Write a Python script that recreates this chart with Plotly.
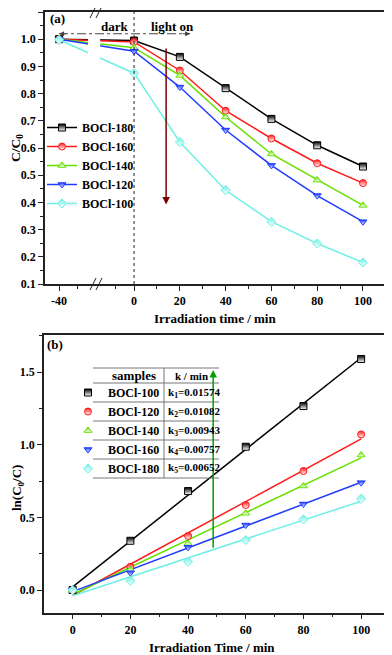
import numpy as np
import plotly.graph_objects as go

# ---- panel (a): C/C0 vs irradiation time ----
times_a = [-40, 0, 20, 40, 60, 80, 100]
names_a = ['BOCl-180', 'BOCl-160', 'BOCl-140', 'BOCl-120', 'BOCl-100']
boc180_a = [1.000, 0.995, 0.935, 0.820, 0.707, 0.610, 0.532]
boc160_a = [1.000, 0.990, 0.885, 0.737, 0.635, 0.544, 0.471]
boc140_a = [1.000, 0.969, 0.867, 0.714, 0.578, 0.482, 0.389]
boc120_a = [1.000, 0.956, 0.824, 0.666, 0.536, 0.425, 0.329]
boc100_a = [0.998, 0.875, 0.622, 0.445, 0.329, 0.249, 0.179]

# ---- panel (b): ln(C0/C) vs irradiation time ----
times_b = [0, 20, 40, 60, 80, 100]
names_b = ['BOCl-100', 'BOCl-120', 'BOCl-140', 'BOCl-160', 'BOCl-180']
boc100_b = [0.000, 0.339, 0.681, 0.986, 1.266, 1.590]
boc120_b = [0.000, 0.160, 0.372, 0.585, 0.819, 1.071]
boc140_b = [0.000, 0.140, 0.321, 0.528, 0.716, 0.929]
boc160_b = [0.000, 0.119, 0.294, 0.447, 0.592, 0.739]
boc180_b = [0.000, 0.064, 0.195, 0.344, 0.486, 0.628]
k_values = ['0.01574', '0.01082', '0.00943', '0.00757', '0.00652']

colors = ['#000000', '#ff1a1a', '#66e000', '#1f3cff', '#6ef0e4']
symbols = ['square', 'circle', 'triangle-up', 'triangle-down', 'diamond']

# page body has an 8px margin, so the figure is 8px smaller than the window
OFF = 8
W, H = 392 - OFF, 655 - OFF
FONT = 'Liberation Serif'


def px(x):
    # window pixel -> paper x
    return (x - OFF) / W


def py(y):
    # window pixel -> paper y
    return 1 - (y - OFF) / H


def bold(size, color='black'):
    return dict(family=FONT, size=size, color=color, weight='bold')


# broken axis: the dark period before 0 is drawn compressed
pre_scale = 0.819


def xmap(t):
    return t * pre_scale if t < 0 else t


def half_marker(c, size=7):
    return dict(symbol=symbols[colors.index(c)], size=size, color=c,
                gradient=dict(type='vertical', color='white'),
                line=dict(color=c, width=1))


fig = go.Figure()

series_a = [boc180_a, boc160_a, boc140_a, boc120_a, boc100_a]
for name, ys, c in zip(names_a, series_a, colors):
    fig.add_trace(go.Scatter(
        x=[xmap(t) for t in times_a], y=ys, mode='lines+markers', name=name,
        line=dict(color=c, width=1.5), marker=half_marker(c),
        xaxis='x', yaxis='y', legend='legend'))

series_b = [boc100_b, boc120_b, boc140_b, boc160_b, boc180_b]
for name, ys, c in zip(names_b, series_b, colors):
    coef = np.polyfit(times_b, ys, 1)
    fig.add_trace(go.Scatter(
        x=times_b, y=np.polyval(coef, times_b), mode='lines',
        line=dict(color=c, width=1.5), showlegend=False,
        xaxis='x2', yaxis='y2', hoverinfo='skip'))
for name, ys, c in zip(names_b, series_b, colors):
    fig.add_trace(go.Scatter(
        x=times_b, y=ys, mode='markers', name=name, marker=half_marker(c),
        xaxis='x2', yaxis='y2', legend='legend2'))

axis_common = dict(showgrid=False, zeroline=False, showline=True, mirror=True,
                   linecolor='#222', linewidth=1.5, ticks='outside', ticklen=5,
                   tickwidth=1.2, tickcolor='#222', tickfont=bold(12),
                   automargin=False)

fig.update_layout(
    width=W, height=H, template='none',
    margin=dict(l=0, r=0, t=0, b=0),
    paper_bgcolor='white', plot_bgcolor='white',
    xaxis=dict(axis_common, domain=[px(45), px(386)], anchor='y',
               range=[-38.9, 110.05],
               tickvals=[xmap(t) for t in times_a],
               ticktext=[str(t) for t in times_a],
               minor=dict(tickvals=[xmap(-30), xmap(-10), 10, 30, 50, 70, 90],
                          ticks='outside', ticklen=3, tickcolor='#222')),
    yaxis=dict(axis_common, domain=[py(284), py(12)], anchor='x',
               range=[0.1, 1.1], tick0=0.1, dtick=0.1, tickformat='.1f',
               minor=dict(dtick=0.05, tick0=0.1, ticks='outside', ticklen=3,
                          tickcolor='#222')),
    xaxis2=dict(axis_common, domain=[px(44), px(390)], anchor='y2',
                range=[-9.95, 110], tick0=0, dtick=20,
                minor=dict(dtick=10, tick0=0, ticks='outside', ticklen=3,
                           tickcolor='#222')),
    yaxis2=dict(axis_common, domain=[py(612.7), py(335)], anchor='x2',
                range=[-0.156, 1.755], tickvals=[0, 0.5, 1.0, 1.5],
                tickformat='.1f',
                minor=dict(dtick=0.25, tick0=0, ticks='outside', ticklen=3,
                           tickcolor='#222')),
    legend=dict(x=px(42), y=py(113), xanchor='left', yanchor='top',
                bgcolor='rgba(0,0,0,0)', font=bold(12), borderwidth=0),
    legend2=dict(x=px(68), y=py(378), xanchor='left', yanchor='top',
                 bgcolor='rgba(0,0,0,0)', font=bold(12), borderwidth=0),
    showlegend=True,
)

shapes = []
# axis break gap in the curves
shapes.append(dict(type='rect', xref='x', yref='y', x0=-20.1, x1=-14.8,
                   y0=0.115, y1=1.085, fillcolor='white', line=dict(width=0),
                   layer='above'))
# "//" break marks on the bottom and top frame lines
for yb in (284, 12):
    for xb in (90, 96):
        shapes.append(dict(type='line', xref='paper', yref='paper',
                           x0=px(xb), x1=px(xb + 6), y0=py(yb + 6),
                           y1=py(yb - 6), line=dict(color='#222', width=1),
                           layer='above'))
# light switched on at t = 0
shapes.append(dict(type='line', xref='x', yref='y', x0=0, x1=0, y0=0.1, y1=1.1,
                   line=dict(color='#222', width=1, dash='dot'), layer='above'))
shapes.append(dict(type='line', xref='x', yref='y', x0=xmap(-40), x1=24.5,
                   y0=1.02, y1=1.02,
                   line=dict(color='#444', width=1, dash='dashdot'),
                   layer='above'))

# table in panel (b), rows follow the legend2 entries (19px apart)
row_c = [392.5 + 19 * i for i in range(5)]
t_left, t_div, t_right = 93, 164, 219
line_ys = [368, 383] + [c + 9.5 for c in row_c]
for ly in line_ys:
    shapes.append(dict(type='line', xref='paper', yref='paper',
                       x0=px(t_left), x1=px(t_right), y0=py(ly), y1=py(ly),
                       line=dict(color='#777', width=1)))
shapes.append(dict(type='line', xref='paper', yref='paper',
                   x0=px(t_div), x1=px(t_div), y0=py(line_ys[0]),
                   y1=py(line_ys[-1]), line=dict(color='#777', width=1)))
fig.update_layout(shapes=shapes)


def text_at(x, y, text, font, xanchor='center', **kw):
    # plain text label placed by window pixel
    return dict(xref='paper', yref='paper', x=px(x), y=py(y), text=text,
                xanchor=xanchor, yanchor='middle', showarrow=False, font=font,
                **kw)


ann = []
# arrow heads for the dark / light-on arrow
ann.append(dict(xref='x', yref='y', x=24.5, y=1.02, ax=-9, ay=0, text='',
                showarrow=True, arrowhead=2, arrowsize=1, arrowwidth=1,
                arrowcolor='#444'))
ann.append(dict(xref='x', yref='y', x=xmap(-40), y=1.02, ax=8, ay=0, text='',
                showarrow=True, arrowhead=2, arrowsize=1, arrowwidth=1,
                arrowcolor='#444'))
ann.append(dict(xref='x', yref='y', x=-8.3, y=1.046, text='dark',
                xanchor='center', yanchor='middle', showarrow=False,
                font=bold(13)))
ann.append(dict(xref='x', yref='y', x=17, y=1.046, text='light on',
                xanchor='center', yanchor='middle', showarrow=False,
                font=bold(13)))
# decreasing concentration arrow
ann.append(dict(xref='x', yref='y', axref='x', ayref='y', x=14, y=0.392,
                ax=14, ay=0.971, text='', showarrow=True, arrowhead=2,
                arrowsize=1, arrowwidth=1.5, arrowcolor='#7a0000'))
# increasing ln(C0/C) arrow
ann.append(dict(xref='x2', yref='y2', axref='x2', ayref='y2', x=48.7, y=1.514,
                ax=48.7, ay=0.28, text='', showarrow=True, arrowhead=2,
                arrowsize=1, arrowwidth=1.5, arrowcolor='#00a000'))
# panel labels
ann.append(text_at(48, 19, '(a)', bold(13), xanchor='left'))
ann.append(text_at(45, 345, '(b)', bold(13), xanchor='left'))
# axis titles
ann.append(text_at(215, 318, 'Irradiation time / min', bold(13)))
ann.append(text_at(212, 647, 'Irradiation Time / min', bold(13)))
ann.append(text_at(17, 148, 'C/C<sub>0</sub>', bold(13.5), textangle=-90))
ann.append(text_at(17, 488, 'ln(C<sub>0</sub>/C)', bold(13), textangle=-90))
# table text
ann.append(text_at((104 + t_div) / 2, 375.5, 'samples', bold(13)))
ann.append(text_at((t_div + t_right) / 2, 375.5, 'k / min', bold(11)))
for i, (k, c) in enumerate(zip(k_values, row_c)):
    ann.append(text_at(t_div + 2, c, 'k<sub>%d</sub>=%s' % (i + 1, k),
                       bold(11), xanchor='left'))
fig.update_layout(annotations=ann)

fig.write_html("out.html")
